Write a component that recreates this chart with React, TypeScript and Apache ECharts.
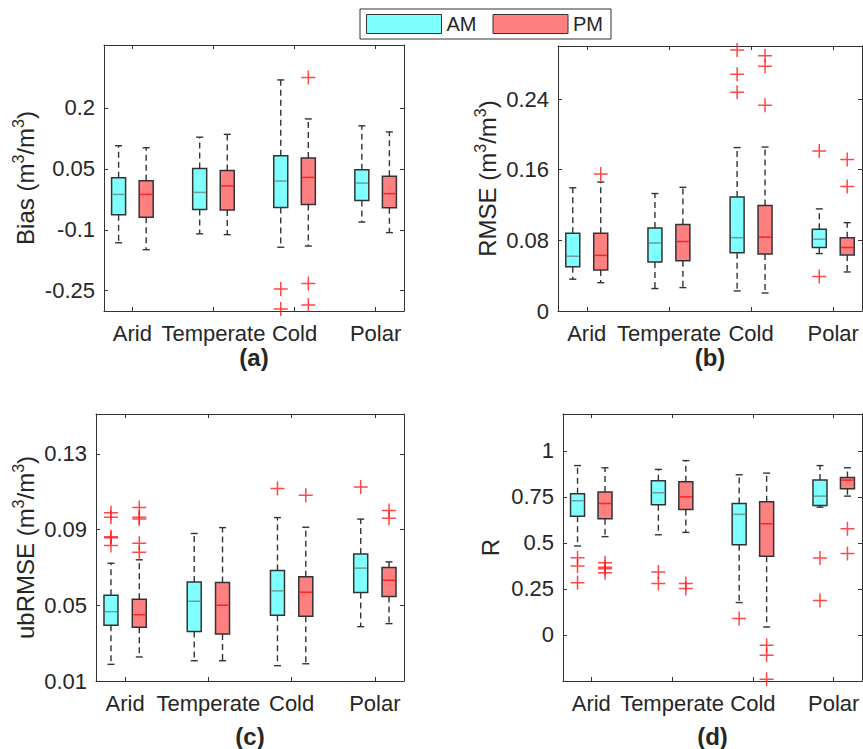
import React, { useEffect, useRef } from 'react';
import * as echarts from 'echarts';

const categories = ['Arid', 'Temperate', 'Cold', 'Polar'];

// Each row: [lower whisker, Q1, median, Q3, upper whisker]
const biasAM = [
  [-0.132, -0.063, -0.013, 0.028, 0.107],
  [-0.11, -0.05, -0.008, 0.051, 0.128],
  [-0.143, -0.045, 0.02, 0.082, 0.269],
  [-0.081, -0.028, 0.015, 0.048, 0.156],
];
const biasPM = [
  [-0.149, -0.069, -0.013, 0.021, 0.102],
  [-0.112, -0.051, 0.008, 0.046, 0.135],
  [-0.14, -0.038, 0.029, 0.077, 0.173],
  [-0.107, -0.046, -0.011, 0.032, 0.141],
];
// outliers: [group (1-based), value]
const biasAMOut = [[3, -0.246], [3, -0.295]];
const biasPMOut = [[3, 0.275], [3, -0.232], [3, -0.285]];
const biasTicks = [-0.25, -0.1, 0.05, 0.2];

const rmseAM = [
  [0.036, 0.05, 0.062, 0.088, 0.1395],
  [0.0254, 0.0556, 0.077, 0.094, 0.133],
  [0.0227, 0.066, 0.083, 0.129, 0.185],
  [0.065, 0.072, 0.0813, 0.0926, 0.1156],
];
const rmsePM = [
  [0.032, 0.0465, 0.063, 0.088, 0.146],
  [0.0265, 0.057, 0.0787, 0.098, 0.14],
  [0.0204, 0.0646, 0.0836, 0.1195, 0.1856],
  [0.0442, 0.0635, 0.0719, 0.0828, 0.1],
];
const rmseAMOut = [[3, 0.2956], [3, 0.268], [3, 0.2476], [4, 0.181], [4, 0.039]];
const rmsePMOut = [[1, 0.155], [3, 0.289], [3, 0.277], [3, 0.233], [4, 0.1716], [4, 0.141]];
const rmseTicks = [0, 0.08, 0.16, 0.24];

const ubrmseAM = [
  [0.0188, 0.0394, 0.0466, 0.0553, 0.0722],
  [0.0207, 0.0361, 0.0521, 0.0623, 0.0879],
  [0.0181, 0.0447, 0.0576, 0.0683, 0.0963],
  [0.0387, 0.0567, 0.0696, 0.0771, 0.0955],
];
const ubrmsePM = [
  [0.0227, 0.0384, 0.045, 0.0532, 0.074],
  [0.0207, 0.0348, 0.05, 0.062, 0.091],
  [0.0191, 0.0442, 0.0569, 0.0651, 0.0912],
  [0.0403, 0.0546, 0.0632, 0.0699, 0.0729],
];
const ubrmseAMOut = [[1, 0.0989], [1, 0.0965], [1, 0.0862], [1, 0.0857], [1, 0.0815], [3, 0.1116], [4, 0.1124]];
const ubrmsePMOut = [[1, 0.1016], [1, 0.0965], [1, 0.0955], [1, 0.0828], [1, 0.078], [3, 0.1081], [4, 0.1], [4, 0.096]];
const ubrmseTicks = [0.01, 0.05, 0.09, 0.13];

const rAM = [
  [0.483, 0.645, 0.729, 0.767, 0.92],
  [0.544, 0.707, 0.772, 0.837, 0.899],
  [0.176, 0.49, 0.655, 0.714, 0.87],
  [0.694, 0.703, 0.754, 0.841, 0.92],
];
const rPM = [
  [0.534, 0.631, 0.714, 0.776, 0.908],
  [0.557, 0.682, 0.75, 0.832, 0.947],
  [0.043, 0.428, 0.604, 0.723, 0.879],
  [0.754, 0.794, 0.841, 0.855, 0.908],
];
const rAMOut = [[1, 0.42], [1, 0.374], [1, 0.284], [2, 0.342], [2, 0.279], [3, 0.089], [4, 0.418], [4, 0.187]];
const rPMOut = [[1, 0.392], [1, 0.368], [1, 0.36], [1, 0.338], [2, 0.28], [2, 0.252], [3, -0.056], [3, -0.11], [3, -0.24], [4, 0.577], [4, 0.443]];
const rTicks = [0, 0.25, 0.5, 0.75, 1];

const FONT = 'Liberation Sans, Arial, Helvetica, sans-serif';
const AXIS_COLOR = '#333333';
const TEXT_COLOR = '#262626';
const AM_FILL = '#80ffff';
const PM_FILL = '#ff8080';
const AM_MED = '#6a9e9e';
const PM_MED = '#ff2020';
const OUT_COLOR = '#ff1a1a';
const OFFSET = 0.17;
const X_MIN = 0.65;
const X_MAX = 4.35;

const PLUS = 'path://M6.25,0 h1.5 v6.25 h6.25 v1.5 h-6.25 v6.25 h-1.5 v-6.25 h-6.25 v-1.5 h6.25 z';
const UNIT = ' (m{s|3}/m{s|3})';

const panels = [
  { name: 'Bias' + UNIT, yMin: -0.3, yMax: 0.355, ticks: biasTicks, am: biasAM, pm: biasPM, amOut: biasAMOut, pmOut: biasPMOut,
    grid: { left: 104, top: 45, width: 300, height: 266 }, nameGap: 63, label: '(a)' },
  { name: 'RMSE' + UNIT, yMin: 0, yMax: 0.3, ticks: rmseTicks, am: rmseAM, pm: rmsePM, amOut: rmseAMOut, pmOut: rmsePMOut,
    grid: { left: 558, top: 46, width: 304, height: 265 }, nameGap: 54, label: '(b)' },
  { name: 'ubRMSE' + UNIT, yMin: 0.01, yMax: 0.151, ticks: ubrmseTicks, am: ubrmseAM, pm: ubrmsePM, amOut: ubrmseAMOut, pmOut: ubrmsePMOut,
    grid: { left: 96, top: 414, width: 308, height: 267 }, nameGap: 50, label: '(c)' },
  { name: 'R', yMin: -0.25, yMax: 1.2, ticks: rTicks, am: rAM, pm: rPM, amOut: rAMOut, pmOut: rPMOut,
    grid: { left: 563, top: 414, width: 299, height: 267 }, nameGap: 58, label: '(d)' },
];

function fmt(v: number) {
  return String(Number(v.toFixed(4)));
}

function boxRender(fill: string, medColor: string) {
  return (params: any, api: any) => {
    const x = api.value(0);
    const lo = api.coord([x, api.value(1)]);
    const q1 = api.coord([x, api.value(2)]);
    const md = api.coord([x, api.value(3)]);
    const q3 = api.coord([x, api.value(4)]);
    const hi = api.coord([x, api.value(5)]);
    const cx = lo[0];
    const hw = 7;
    const cw = 3.5;
    const wStyle = { stroke: AXIS_COLOR, lineWidth: 1.4, lineDash: [6, 4] };
    const cStyle = { stroke: AXIS_COLOR, lineWidth: 1.4 };
    return {
      type: 'group',
      children: [
        { type: 'line', shape: { x1: cx, y1: q3[1], x2: cx, y2: hi[1] }, style: wStyle },
        { type: 'line', shape: { x1: cx, y1: q1[1], x2: cx, y2: lo[1] }, style: wStyle },
        { type: 'line', shape: { x1: cx - cw, y1: hi[1], x2: cx + cw, y2: hi[1] }, style: cStyle },
        { type: 'line', shape: { x1: cx - cw, y1: lo[1], x2: cx + cw, y2: lo[1] }, style: cStyle },
        { type: 'rect', shape: { x: cx - hw, y: q3[1], width: 2 * hw, height: q1[1] - q3[1] }, style: { fill, stroke: AXIS_COLOR, lineWidth: 1.5 } },
        { type: 'line', shape: { x1: cx - hw + 1, y1: md[1], x2: cx + hw - 1, y2: md[1] }, style: { stroke: medColor, lineWidth: 1.5 } },
      ],
    };
  };
}

function buildOption() {
  const grid: any[] = [];
  const xAxis: any[] = [];
  const yAxis: any[] = [];
  const series: any[] = [];
  const graphic: any[] = [];

  const tickBase = { show: true, inside: true, length: 4, lineStyle: { color: AXIS_COLOR, width: 1 } };
  const lineBase = { show: true, onZero: false, lineStyle: { color: AXIS_COLOR, width: 1 } };

  panels.forEach((p, i) => {
    grid.push({ ...p.grid, containLabel: false, outerBoundsMode: 'none', show: false });
    xAxis.push({
      type: 'value', gridIndex: i, min: X_MIN, max: X_MAX, position: 'bottom',
      axisLine: lineBase,
      axisTick: { ...tickBase, customValues: [1, 2, 3, 4] },
      axisLabel: { show: true, customValues: [1, 2, 3, 4], margin: 11, fontSize: 22, fontFamily: FONT, color: TEXT_COLOR,
        formatter: (v: number) => categories[Math.round(v) - 1] ?? '' },
      splitLine: { show: false },
    });
    yAxis.push({
      type: 'value', gridIndex: i, min: p.yMin, max: p.yMax, position: 'left',
      name: p.name, nameLocation: 'middle', nameGap: p.nameGap,
      nameTextStyle: {
        fontSize: 24, lineHeight: 30, fontFamily: FONT, color: TEXT_COLOR,
        rich: { s: { fontSize: 16, lineHeight: 14, verticalAlign: 'top', fontFamily: FONT, color: TEXT_COLOR } },
      },
      axisLine: lineBase,
      axisTick: { ...tickBase, customValues: p.ticks },
      axisLabel: { show: true, customValues: p.ticks, margin: 9, fontSize: 22, fontFamily: FONT, color: TEXT_COLOR, formatter: (v: number) => fmt(v) },
      splitLine: { show: false },
    });
  });
  panels.forEach((p, i) => {
    xAxis.push({
      type: 'value', gridIndex: i, min: X_MIN, max: X_MAX, position: 'top',
      axisLine: lineBase, axisTick: { ...tickBase, customValues: [1, 2, 3, 4] },
      axisLabel: { show: false }, splitLine: { show: false },
    });
    yAxis.push({
      type: 'value', gridIndex: i, min: p.yMin, max: p.yMax, position: 'right',
      axisLine: lineBase, axisTick: { ...tickBase, customValues: p.ticks },
      axisLabel: { show: false }, splitLine: { show: false },
    });
  });

  panels.forEach((p, i) => {
    const amData = p.am.map((r, g) => [g + 1 - OFFSET, ...r]);
    const pmData = p.pm.map((r, g) => [g + 1 + OFFSET, ...r]);
    series.push({
      type: 'custom', name: 'AM', xAxisIndex: i, yAxisIndex: i, data: amData,
      encode: { x: 0, y: [1, 2, 3, 4, 5] }, itemStyle: { color: AM_FILL }, clip: false,
      renderItem: boxRender(AM_FILL, AM_MED),
    });
    series.push({
      type: 'custom', name: 'PM', xAxisIndex: i, yAxisIndex: i, data: pmData,
      encode: { x: 0, y: [1, 2, 3, 4, 5] }, itemStyle: { color: PM_FILL }, clip: false,
      renderItem: boxRender(PM_FILL, PM_MED),
    });
    series.push({
      type: 'scatter', name: 'outAM', xAxisIndex: i, yAxisIndex: i, clip: false,
      data: p.amOut.map(([g, v]) => [g - OFFSET, v]),
      symbol: PLUS, symbolSize: 14, itemStyle: { color: OUT_COLOR },
    });
    series.push({
      type: 'scatter', name: 'outPM', xAxisIndex: i, yAxisIndex: i, clip: false,
      data: p.pmOut.map(([g, v]) => [g + OFFSET, v]),
      symbol: PLUS, symbolSize: 14, itemStyle: { color: OUT_COLOR },
    });
    graphic.push({
      type: 'text',
      x: p.grid.left + p.grid.width / 2,
      y: i < 2 ? 357 : 736,
      style: { text: p.label, font: `bold 24px ${FONT}`, fill: TEXT_COLOR, textAlign: 'center', textVerticalAlign: 'middle' },
    });
  });

  return {
    animation: false,
    backgroundColor: '#ffffff',
    textStyle: { fontFamily: FONT },
    grid, xAxis, yAxis, series, graphic,
    legend: {
      show: true,
      left: 360, top: 9,
      orient: 'horizontal',
      selectedMode: false,
      borderColor: AXIS_COLOR, borderWidth: 1,
      padding: [5, 8, 5, 6],
      itemWidth: 75, itemHeight: 19, itemGap: 16,
      icon: 'rect',
      textStyle: { fontSize: 20, fontFamily: FONT, color: TEXT_COLOR },
      data: [
        { name: 'AM', icon: 'rect', itemStyle: { color: AM_FILL, borderColor: AXIS_COLOR, borderWidth: 1 } },
        { name: 'PM', icon: 'rect', itemStyle: { color: PM_FILL, borderColor: AXIS_COLOR, borderWidth: 1 } },
      ],
    },
  };
}

export default function App() {
  const ref = useRef<HTMLDivElement>(null);
  useEffect(() => {
    if (!ref.current) return;
    const chart = echarts.init(ref.current, null, { renderer: 'svg' });
    chart.setOption(buildOption() as any);
    return () => chart.dispose();
  }, []);
  return <div ref={ref} style={{ position: 'absolute', left: 0, top: 0, width: 863, height: 749 }} />;
}
